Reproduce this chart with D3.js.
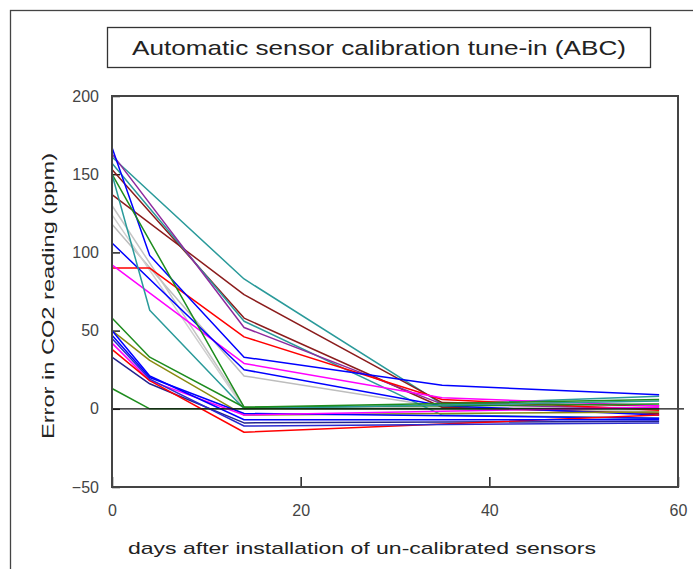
<!DOCTYPE html>
<html>
<head>
<meta charset="utf-8">
<script src="https://cdn.jsdelivr.net/npm/d3@7/dist/d3.min.js"></script>
<style>
    body { margin: 0; background: #fff; }
    #chart { width: 693px; height: 569px; }
    text { font-family: "Liberation Sans", Arial, Helvetica, sans-serif; }
</style>
</head>
<body>
<div id="chart"></div>
<script>
const DAYS = [0, 4, 14, 35, 58];

const S_TEAL_1 = [161, null, 83, 3, 8],
    S_BROWN_1 = [137, null, 73, 4, 2],
    S_BROWN_2 = [153, null, 58, 1, -3],
    S_TEAL_2 = [157, null, 56, -4, -6],
    S_PURPLE = [163, null, 52, 3, 0],
    S_RED_1 = [90, 90, 46, 6, -1],
    S_BLUE_1 = [167, 98, 33, 15, 9],
    S_MAGENTA_1 = [92, null, 29, 7, 2],
    S_BLUE_2 = [106, null, 25, 2, -4],
    S_GRAY_1 = [118, null, 21, 1, -2],
    S_GREEN_1 = [150, null, 1, null, 3],
    S_TEAL_3 = [150, 63, 0, null, 5],
    S_GRAY_2 = [130, null, 1, null, 1],
    S_GRAY_3 = [124, null, 0, null, -1],
    S_GREEN_2 = [58, 33, 1, null, 6],
    S_GREEN_3 = [13, 0, 0, null, 0],
    S_OLIVE = [50, 31, -4, null, -2],
    S_BLUE_3 = [47, 20, -3, null, -6],
    S_MAGENTA_2 = [42, 18, -4, null, 1],
    S_NAVY = [33, 16, -9, null, -8],
    S_RED_2 = [38, 18, -15, null, -4],
    S_BLUE_4 = [45, 19, -11, null, -9],
    S_BLUE_5 = [50, 21, -7, null, -7];

const SERIES = [
    { color: '#bdbdbd', values: S_GRAY_1 },
    { color: '#c4c4c4', values: S_GRAY_2 },
    { color: '#cfcfcf', values: S_GRAY_3 },
    { color: '#2a9a9a', values: S_TEAL_1 },
    { color: '#8b1c1c', values: S_BROWN_1 },
    { color: '#8b1c1c', values: S_BROWN_2 },
    { color: '#2a9a9a', values: S_TEAL_2 },
    { color: '#8e2a9e', values: S_PURPLE },
    { color: '#ff0000', values: S_RED_1 },
    { color: '#0000ff', values: S_BLUE_1 },
    { color: '#ff00ff', values: S_MAGENTA_1 },
    { color: '#0000ff', values: S_BLUE_2 },
    { color: '#1e8c1e', values: S_GREEN_1 },
    { color: '#2a9a9a', values: S_TEAL_3 },
    { color: '#1e8c1e', values: S_GREEN_2 },
    { color: '#1e8c1e', values: S_GREEN_3 },
    { color: '#8a8a10', values: S_OLIVE },
    { color: '#0000ff', values: S_BLUE_3 },
    { color: '#ff00ff', values: S_MAGENTA_2 },
    { color: '#23238f', values: S_NAVY },
    { color: '#ff0000', values: S_RED_2 },
    { color: '#2a2ad0', values: S_BLUE_4 },
    { color: '#0000ff', values: S_BLUE_5 }
];

const X_TICKS = [0, 20, 40, 60],
    Y_TICKS = [-50, 0, 50, 100, 150, 200];

const TITLE = 'Automatic sensor calibration tune-in (ABC)',
    X_LABEL = 'days after installation of un-calibrated sensors',
    Y_LABEL = 'Error in CO2 reading (ppm)';

//Desarrollo del gráfico
let margin = {top: 96, right: 15, bottom: 82, left: 112},
    width = 693 - margin.left - margin.right,
    height = 569 - margin.top - margin.bottom;

let svg = d3.select('#chart')
    .append('svg')
        .attr('width', 693)
        .attr('height', 569);

//Marco exterior (cortado por la derecha y por abajo)
svg.append('rect')
    .attr('x', 10.5)
    .attr('y', 10.5)
    .attr('width', 720)
    .attr('height', 600)
    .attr('fill', 'none')
    .attr('stroke', '#444')
    .attr('stroke-width', 1.3);

//Título con caja
svg.append('rect')
    .attr('x', 107.5)
    .attr('y', 27.5)
    .attr('width', 543)
    .attr('height', 40)
    .attr('fill', 'none')
    .attr('stroke', '#333')
    .attr('stroke-width', 1.3);

svg.append('text')
    .attr('x', 379)
    .attr('y', 55)
    .attr('text-anchor', 'middle')
    .attr('font-size', 21)
    .attr('fill', '#222')
    .attr('textLength', 494)
    .attr('lengthAdjust', 'spacingAndGlyphs')
    .text(TITLE);

let g = svg.append('g')
    .attr('transform', 'translate(' + margin.left + ',' + margin.top + ')');

let x = d3.scaleLinear()
    .domain([0, 60])
    .range([0, 566]);

let y = d3.scaleLinear()
    .domain([-50, 200])
    .range([391, 0]);

let xAxis = function(sel) {
    sel.call(d3.axisBottom(x).tickValues(X_TICKS).tickSizeInner(-10).tickSizeOuter(0).tickPadding(18));
    sel.call(function(g){ g.select('.domain').remove(); });
    sel.call(function(g){
        g.selectAll('.tick line').attr('stroke', '#222').attr('stroke-width', 1.5);
        g.selectAll('.tick text').attr('font-size', 16).attr('fill', '#444').attr('font-family', '"Liberation Sans", Arial, sans-serif');
    });
}

let yAxis = function(sel) {
    sel.call(d3.axisLeft(y).tickValues(Y_TICKS).tickSizeInner(-8).tickSizeOuter(0).tickPadding(13));
    sel.call(function(g){ g.select('.domain').remove(); });
    sel.call(function(g){
        g.selectAll('.tick line').attr('stroke', '#222').attr('stroke-width', 1.5);
        g.selectAll('.tick text').attr('font-size', 16).attr('fill', '#444').attr('font-family', '"Liberation Sans", Arial, sans-serif');
    });
}

g.append('g')
    .attr('transform', 'translate(0,' + y(-50) + ')')
    .call(xAxis);

g.append('g')
    .call(yAxis);

//Líneas de sensores
let line = d3.line()
    .x(function(d) { return x(d.day); })
    .y(function(d) { return y(d.value); });

SERIES.forEach(function(s) {
    let pts = DAYS.map(function(d, i) { return { day: d, value: s.values[i] }; })
        .filter(function(d) { return d.value != null; });

    g.append('path')
        .datum(pts)
        .attr('fill', 'none')
        .attr('stroke', s.color)
        .attr('stroke-width', 1.5)
        .attr('stroke-linejoin', 'round')
        .attr('d', line);
});

//Línea del cero
g.append('line')
    .attr('x1', x(0))
    .attr('x2', x(60) + 6)
    .attr('y1', y(0))
    .attr('y2', y(0))
    .attr('stroke', '#111')
    .attr('stroke-width', 1.3);

//Marco del área de gráfico
g.append('rect')
    .attr('x', x(0))
    .attr('y', y(200))
    .attr('width', x(60) - x(0))
    .attr('height', y(-50) - y(200))
    .attr('fill', 'none')
    .attr('stroke', '#444')
    .attr('stroke-width', 2);

//Etiquetas de los ejes
svg.append('text')
    .attr('x', 362)
    .attr('y', 554)
    .attr('text-anchor', 'middle')
    .attr('font-size', 17)
    .attr('fill', '#222')
    .attr('textLength', 468)
    .attr('lengthAdjust', 'spacingAndGlyphs')
    .text(X_LABEL);

svg.append('text')
    .attr('transform', 'translate(54,296) rotate(-90)')
    .attr('text-anchor', 'middle')
    .attr('font-size', 17)
    .attr('fill', '#222')
    .attr('textLength', 286)
    .attr('lengthAdjust', 'spacingAndGlyphs')
    .text(Y_LABEL);
</script>
</body>
</html>
